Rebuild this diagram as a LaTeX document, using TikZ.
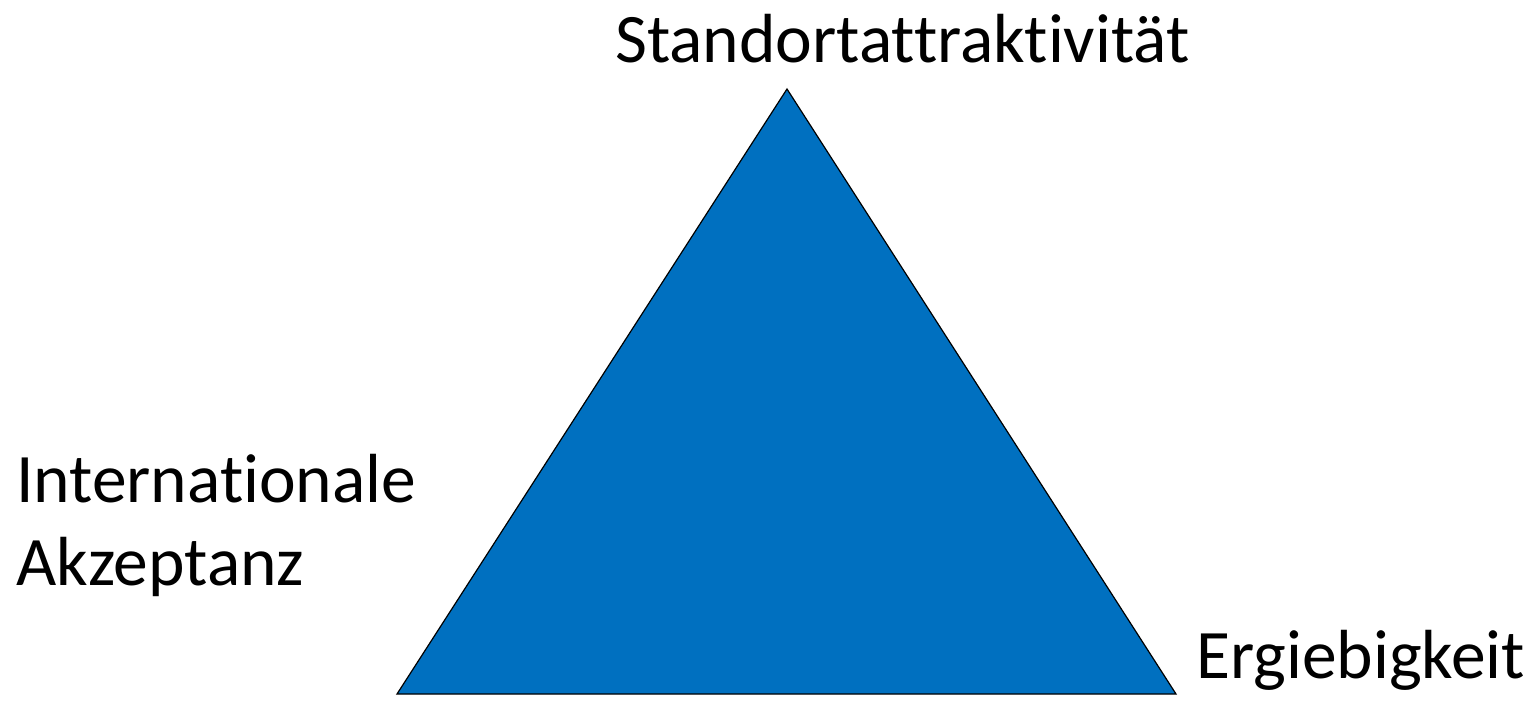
\documentclass[tikz,border=0pt]{standalone}
\usepackage{fontspec}
\setmainfont[Ligatures={NoCommon,NoRare}]{Carlito}
\definecolor{triblue}{HTML}{0070C0}
\tikzset{
  lbl/.style={inner sep=0pt, anchor=base west, font=\fontsize{69.5}{83}\selectfont, text=black},
  tri/.style={fill=triblue, draw=black, line width=1.2pt, line join=miter}
}
\begin{document}
\begin{tikzpicture}[x=1pt,y=1pt]
\useasboundingbox (0,0) rectangle (1538,705);
\coordinate (top) at (787,616);
\coordinate (bl) at (397,11);
\coordinate (br) at (1176,11);
\draw[tri] (top) -- (bl) -- (br) -- cycle;
\node[lbl] (s) at (615,642) {Standortattraktivität};
\node[lbl] (i) at (16,203) {Internationale};
\node[lbl] (a) at (16,120) {Akzeptanz};
\node[lbl] (e) at (1196,27) {Ergiebigkeit};
\end{tikzpicture}
\end{document}
